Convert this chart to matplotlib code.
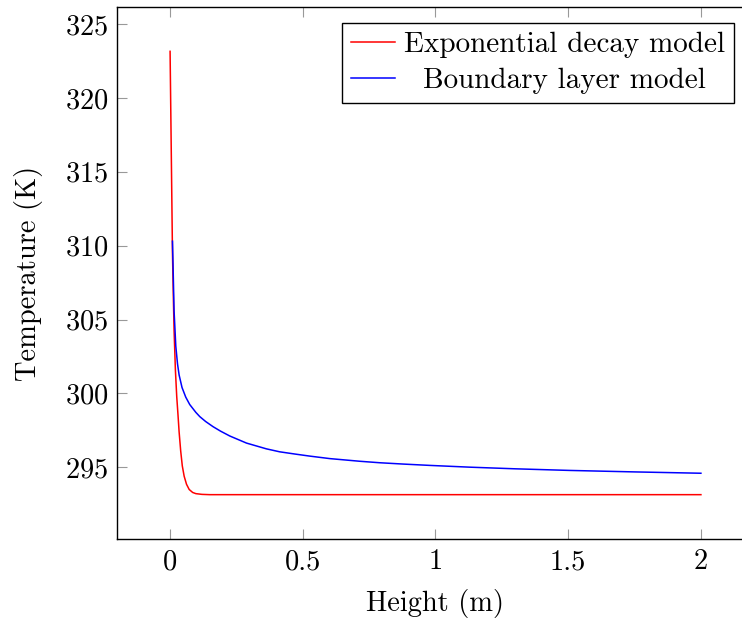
import matplotlib
matplotlib.use("Agg")
import matplotlib.pyplot as plt
from matplotlib.transforms import Affine2D

# values
red_x = [0.0, 0.009, 0.012, 0.015, 0.020, 0.025, 0.030, 0.034, 0.040, 0.046,
         0.053, 0.062, 0.072, 0.085, 0.097, 0.12, 0.15, 0.5, 1.0, 1.5, 2.0]
red_t = [323.15, 309.5, 306.8, 304.3, 301.6, 299.8, 298.5, 297.4, 296.1, 295.1,
         294.4, 293.85, 293.5, 293.3, 293.22, 293.17, 293.15, 293.15, 293.15, 293.15, 293.15]

blue_x = [0.009, 0.011, 0.015, 0.0215, 0.028, 0.034, 0.045, 0.059, 0.074, 0.097,
          0.112, 0.134, 0.162, 0.19, 0.225, 0.288, 0.363, 0.413, 0.47, 0.526,
          0.602, 0.715, 0.79, 0.879, 0.979, 1.13, 1.3, 1.506, 1.75, 2.0]
blue_t = [310.3, 308.8, 305.6, 303.2, 302.0, 301.25, 300.4, 299.75, 299.25, 298.72,
          298.43, 298.1, 297.75, 297.45, 297.12, 296.64, 296.25, 296.05, 295.9, 295.76,
          295.59, 295.41, 295.31, 295.22, 295.13, 295.01, 294.9, 294.79, 294.69, 294.6]

labels = ["Exponential decay model", "Boundary layer model"]
xticks = [0, 0.5, 1, 1.5, 2]
xticklabels = ["0", "0.5", "1", "1.5", "2"]
yticks = [295, 300, 305, 310, 315, 320, 325]

plt.rcParams["font.family"] = ["cmr10", "DejaVu Serif"]
plt.rcParams["mathtext.fontset"] = "cm"
plt.rcParams["axes.formatter.use_mathtext"] = True
fs = 20.5

fig = plt.figure(figsize=(7.42, 6.22), dpi=100)
# the right edge of the axes falls just outside the canvas, as in the original crop
ax = fig.add_axes([117 / 742, 83 / 622, 637 / 742, 532 / 622])

ax.plot(red_x, red_t, color="#ff0000", lw=1.1, label=labels[0])
ax.plot(blue_x, blue_t, color="#0000ff", lw=1.1, label=labels[1])

ax.set_xlim(-0.2, 2.2)
ax.set_ylim(290.15, 326.15)
ax.set_xticks(xticks)
ax.set_xticklabels(xticklabels)
ax.set_yticks(yticks)
ax.tick_params(direction="in", length=7.5, width=0.8, color="#999999",
               top=True, right=False, labelsize=fs)
ax.tick_params(axis="x", pad=7)
ax.tick_params(axis="y", pad=6)
ax.spines["right"].set_visible(False)
for s in ax.spines.values():
    s.set_linewidth(1.0)

ax.set_xlabel("Height (m)", fontsize=fs, labelpad=10)
ax.set_ylabel("Temperature (K)", fontsize=fs, labelpad=16)

leg = ax.legend(loc="upper right", bbox_to_anchor=(0.9686, 0.970), borderaxespad=0,
                fontsize=21, fancybox=False, framealpha=1, edgecolor="black",
                handlelength=1.5, handletextpad=0.32, borderpad=0.3, labelspacing=0.32)
leg.get_frame().set_linewidth(1.0)

# centre the shorter label in its column, like pgfplots does
fig.canvas.draw()
texts = leg.get_texts()
r = fig.canvas.get_renderer()
widths = [t.get_window_extent(r).width for t in texts]
wmax = max(widths)
for t, w in zip(texts, widths):
    t.set_transform(t.get_transform() + Affine2D().translate((wmax - w) / 2, 0))

fig.savefig("out.png", dpi=100)
